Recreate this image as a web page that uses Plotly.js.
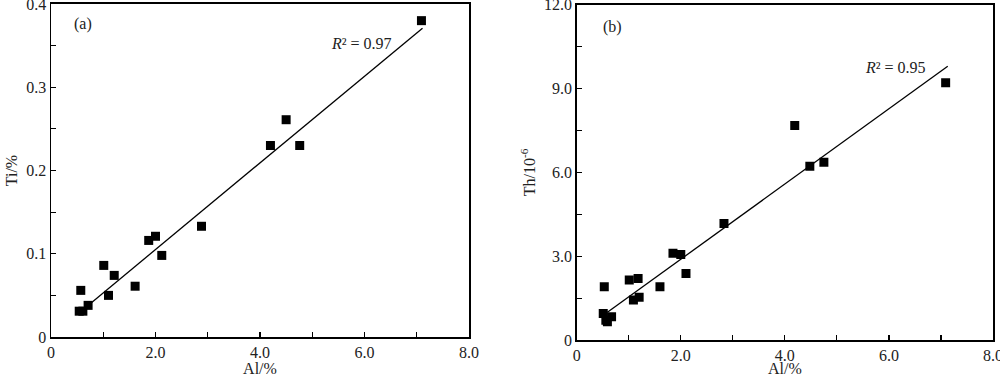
<!DOCTYPE html>
<html>
<head>
<meta charset="utf-8">
<script src="https://cdn.plot.ly/plotly-3.0.1.min.js"></script>
<style>html,body{margin:0;padding:0;background:#fff;}#chart{width:1000px;height:377px;}</style>
</head>
<body>
<div id="chart"></div>
<script>
// Panel (a): Ti vs Al
const alA = [0.54, 0.61, 0.57, 0.71, 1.01, 1.10, 1.21, 1.61, 1.87, 2.00, 2.12, 2.88, 4.20, 4.50, 4.76, 7.09];
const tiA = [0.031, 0.031, 0.056, 0.038, 0.086, 0.050, 0.074, 0.061, 0.116, 0.121, 0.098, 0.133, 0.230, 0.261, 0.230, 0.380];
const fitAx = [0.75, 7.11];
const fitAy = [0.040, 0.371];

// Panel (b): Th vs Al
const alB = [0.51, 0.53, 0.56, 0.59, 0.67, 1.01, 1.18, 1.09, 1.20, 1.60, 1.85, 2.00, 2.10, 2.83, 4.19, 4.48, 4.75, 7.09];
const thB = [0.96, 1.91, 0.72, 0.66, 0.84, 2.16, 2.21, 1.44, 1.54, 1.91, 3.11, 3.07, 2.39, 4.18, 7.68, 6.22, 6.37, 9.21];
const fitBx = [0.59, 7.13];
const fitBy = [1.00, 9.80];

const xTickVals = [0, 1, 2, 3, 4, 5, 6, 7, 8];
const xTickText = ['0', '', '2.0', '', '4.0', '', '6.0', '', '8.0'];
const yATickVals = [0, 0.05, 0.1, 0.15, 0.2, 0.25, 0.3, 0.35, 0.4];
const yATickText = ['0', '', '0.1', '', '0.2', '', '0.3', '', '0.4'];
const yBTickVals = [0, 1.5, 3, 4.5, 6, 7.5, 9, 10.5, 12];
const yBTickText = ['0', '', '3.0', '', '6.0', '', '9.0', '', '12.0'];

const FONT = 'Liberation Serif';
const TXT = {family: FONT, size: 16, color: '#222'};
const marker = {symbol: 'square', size: 9, color: '#000'};

const traces = [
  {x: alA, y: tiA, type: 'scatter', mode: 'markers', marker: marker, xaxis: 'x', yaxis: 'y', showlegend: false},
  {x: fitAx, y: fitAy, type: 'scatter', mode: 'lines', line: {color: '#000', width: 1.3}, xaxis: 'x', yaxis: 'y', showlegend: false},
  {x: alB, y: thB, type: 'scatter', mode: 'markers', marker: marker, xaxis: 'x2', yaxis: 'y2', showlegend: false},
  {x: fitBx, y: fitBy, type: 'scatter', mode: 'lines', line: {color: '#000', width: 1.3}, xaxis: 'x2', yaxis: 'y2', showlegend: false}
];

function ax(extra) {
  return Object.assign({
    showline: true, mirror: true, linecolor: '#000', linewidth: 1.5,
    showgrid: false, zeroline: false,
    ticks: 'inside', ticklen: 5, tickcolor: '#000', tickwidth: 1.2,
    tickmode: 'array', automargin: false, ticklabeloverflow: 'allow',
    tickfont: TXT
  }, extra);
}

const layout = {
  width: 1000, height: 377,
  margin: {l: 0, r: 0, t: 0, b: 0},
  paper_bgcolor: '#fff', plot_bgcolor: '#fff',
  font: TXT,
  xaxis: ax({domain: [0.051, 0.469], range: [0, 8], tickvals: xTickVals, ticktext: xTickText,
    anchor: 'y', title: {text: 'Al/%', font: TXT, standoff: 0}}),
  yaxis: ax({domain: [0.1061, 0.9894], range: [0, 0.4], tickvals: yATickVals, ticktext: yATickText,
    anchor: 'x', title: {text: 'Ti/%', font: TXT, standoff: 4}}),
  xaxis2: ax({domain: [0.5767, 0.993], range: [0, 8], tickvals: xTickVals, ticktext: xTickText,
    anchor: 'y2', title: {text: 'Al/%', font: TXT, standoff: 0}}),
  yaxis2: ax({domain: [0.0974, 0.9875], range: [0, 12], tickvals: yBTickVals, ticktext: yBTickText,
    anchor: 'x2', title: {text: 'Th/10<sup>-6</sup>', font: TXT, standoff: 4}}),
  annotations: [
    {xref: 'x domain', yref: 'y domain', x: 0.077, y: 0.94, text: '(a)', showarrow: false, xanchor: 'center', yanchor: 'middle', font: TXT},
    {xref: 'x', yref: 'y', x: 5.33, y: 0.352, text: '<i>R</i>² = 0.97', showarrow: false, xanchor: 'left', yanchor: 'middle', font: TXT},
    {xref: 'x2 domain', yref: 'y2 domain', x: 0.085, y: 0.935, text: '(b)', showarrow: false, xanchor: 'center', yanchor: 'middle', font: TXT},
    {xref: 'x2', yref: 'y2', x: 5.5, y: 9.75, text: '<i>R</i>² = 0.95', showarrow: false, xanchor: 'left', yanchor: 'middle', font: TXT}
  ]
};

Plotly.newPlot('chart', traces, layout, {staticPlot: true, displayModeBar: false});
</script>
</body>
</html>
